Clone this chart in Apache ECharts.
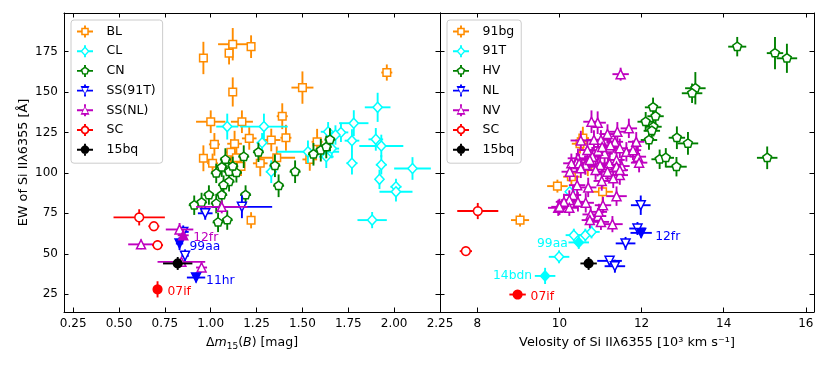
<!DOCTYPE html>
<html>
<head>
<meta charset="utf-8">
<script src="https://cdn.jsdelivr.net/npm/echarts@6/dist/echarts.min.js"></script>
<style>
html, body { margin: 0; padding: 0; background: #fff; }
#main { width: 830px; height: 369px; }
</style>
</head>
<body>
<div id="main"></div>
<script>
// every point: [x, EW, xerr, yerr]
// left panel: x = dm15(B)
var BL = [[0.96,171,0.02,10],[1.12,179.5,0.08,10],[1.10,174,0.02,7],[1.22,178,0.02,7],[1.12,150,0.02,9],
  [1.00,131.6,0.08,7],[1.17,131.6,0.06,7],[1.50,152.7,0.06,10],[1.96,162,0.03,5],[1.39,135,0.03,8],
  [1.02,117.6,0.03,7],[1.21,121.3,0.04,7],[1.33,120.3,0.05,7],[1.41,121.7,0.03,8],[0.96,109,0.02,8],
  [1.13,118,0.04,8],[1.11,112.7,0.03,8],[1.01,105.9,0.03,6],[1.27,105.9,0.04,8],[1.36,109.3,0.1,7],
  [1.58,119.2,0.03,8],[1.54,108.3,0.04,7],[1.165,104,0.02,6],[1.22,70.7,0.02,5],[1.14,109.3,0.03,7]];
var CL = [[1.09,128.6,0.06,8],[1.29,128.6,0.13,8],[1.28,118.6,0.03,6],[1.91,140.5,0.07,9],[1.78,130.7,0.08,8],
  [1.71,125,0.04,6],[1.64,125.4,0.04,6],[1.68,123.4,0.04,6],[1.77,119.9,0.04,7],[1.90,120.7,0.04,7],
  [1.93,116.6,0.12,7],[1.77,106,0.03,7],[1.93,105,0.03,6],[2.10,102.7,0.1,7],[1.63,110,0.04,7],
  [1.66,115,0.04,6],[1.53,113,0.17,7],[1.33,100.7,0.03,7],[1.92,96,0.02,6],[2.01,91.4,0.03,5],
  [2.01,88.3,0.09,6],[1.88,70.8,0.08,5]];
var CN = [[1.18,110,0.03,7],[1.26,112.7,0.03,6],[1.35,104.4,0.03,7],[1.46,100.7,0.03,7],[1.37,92,0.03,7],
  [1.08,108.2,0.03,7],[1.06,103.5,0.03,6],[1.03,99.7,0.03,6],[1.10,100.7,0.03,6],[1.14,100,0.03,6],
  [1.10,94.5,0.03,6],[1.07,92.4,0.03,6],[1.19,86.3,0.03,6],[0.99,86.3,0.03,6],[0.91,80,0.03,6],
  [0.95,81.7,0.03,6],[1.03,81,0.03,6],[1.06,86.3,0.03,6],[1.09,70.8,0.03,6],[1.04,69.4,0.03,6],
  [1.56,111.5,0.03,7],[1.60,114,0.03,7],[1.63,116,0.03,7],[1.65,120.5,0.03,7],[1.12,104,0.03,6]];
var SS91T = [[0.97,75,0.04,4],[1.17,79,0.165,7],[0.85,63.5,0.03,4],[0.86,48.7,0.02,4]];
var SSNL = [[0.83,65,0.075,4],[0.62,55.8,0.07,3],[1.06,79,0.14,4],[0.84,45,0.13,2],[0.95,41.5,0.03,3]];
var SC_L = [[0.61,72.5,0.14,5],[0.69,67,0.03,3],[0.71,55.3,0.03,3]];
var BQ_L = [[0.82,44,0.08,4]];
var NOTE_SS91T = [[0.83,56.3,0.02,4,'99aa'],[0.92,35.3,0.05,3,'11hr']];
var NOTE_SSNL = [[0.85,61.4,0.03,3,'12fr']];
var NOTE_SC_L = [[0.71,28,0.02,5,'07if']];

// right panel: x = Si II velocity (10^3 km/s)
var G91BG = [[9.04,70.8,0.22,4],[9.95,91.8,0.25,4],[11.05,88.3,0.25,8],[10.29,97.6,0.2,5],[10.57,121.5,0.15,7],
  [10.69,104,0.2,6],[10.5,118,0.2,6]];
var G91T = [[10.35,61.5,0.2,4],[10.63,61.5,0.2,4],[10.78,63.5,0.2,4],[9.99,48.1,0.25,4],[10.25,88.3,0.1,3]];
var HV = [[14.33,178,0.22,6],[15.25,174,0.2,10],[15.54,170.8,0.25,9],[13.31,152.3,0.25,10],[13.23,149.2,0.25,6],
  [12.28,140.5,0.2,6],[12.34,135,0.2,6],[12.10,131.6,0.2,6],[12.29,128.5,0.2,6],[12.18,120.3,0.2,6],
  [12.86,121.7,0.2,7],[13.13,118.2,0.25,7],[12.44,108.4,0.2,6],[12.59,109.3,0.2,6],[12.85,103.8,0.25,6],
  [15.06,109.3,0.25,7],[12.25,126,0.2,5]];
var NL = [[11.98,80,0.24,6],[11.9,65.6,0.2,4],[11.61,56.4,0.24,4],[11.22,45.6,0.3,3],[11.35,42.3,0.25,4]];
var NV = [[11.49,161,0.2,4],[10.93,131,0.2,7],[10.78,131.6,0.2,7],[10.52,120,0.25,6],[11.17,124,0.2,6],
  [11.41,125.4,0.2,6],[11.69,127.5,0.2,6],[11.87,119.2,0.2,6],[11.91,110,0.2,6],[11.01,120.4,0.2,6],
  [11.35,119.2,0.2,6],[11.22,115.7,0.2,6],[11.47,115.2,0.2,6],[11.63,113,0.2,6],[11.10,112,0.2,6],
  [10.94,113.7,0.2,6],[10.68,114.1,0.2,6],[10.80,110,0.2,6],[10.45,109,0.25,6],[10.42,106.3,0.2,6],
  [10.63,104.8,0.2,6],[11.18,104.8,0.2,6],[10.93,103.8,0.2,6],[11.51,104.2,0.2,6],[11.79,114,0.2,6],
  [10.84,120.4,0.2,6],[11.04,116,0.2,6],[11.24,117,0.2,6],[10.29,105.9,0.2,6],[10.48,105.9,0.2,6],
  [10.74,108,0.2,6],[10.99,104.8,0.2,6],[11.22,105.9,0.2,6],[11.39,108,0.2,6],[10.25,100.7,0.2,6],
  [10.52,102.8,0.2,6],[10.88,101.7,0.2,6],[11.17,100.7,0.2,6],[11.39,103.8,0.2,6],[11.47,98.6,0.2,6],
  [11.31,96.6,0.2,6],[11.94,106.3,0.2,6],[10.43,92.4,0.2,6],[10.70,91,0.2,6],[10.33,86.3,0.2,6],
  [10.24,83.2,0.2,6],[10.45,82.1,0.2,6],[10.64,81.5,0.2,6],[9.97,78.4,0.25,5],[10.24,78.4,0.2,5],
  [11.39,85.6,0.25,6],[10.76,74.3,0.2,5],[10.94,73.3,0.2,5],[11.01,69.7,0.2,5],[10.74,70.8,0.2,5],
  [11.29,68.3,0.25,5],[10.96,75.9,0.2,5],[10.11,82.1,0.2,5],[10.0,79,0.2,5],[11.06,80,0.2,5],
  [11.47,101.7,0.2,6],[11.03,95,0.2,6]];
var SC_R = [[8.01,76.4,0.5,5],[7.72,51.6,0.15,2]];
var BQ_R = [[10.71,44,0.2,4]];
var NOTE_91T = [[10.47,57,0.25,4,'99aa'],[9.65,36.3,0.25,5,'14bdn']];
var NOTE_NL = [[11.99,62.9,0.26,3,'12fr']];
var NOTE_SC_R = [[8.98,24.8,0.2,2,'07if']];

var EW_TICKS = [25, 50, 75, 100, 125, 150, 175];
var DM_TICKS = [0.25, 0.5, 0.75, 1.0, 1.25, 1.5, 1.75, 2.0, 2.25];
var VEL_TICKS = [8, 10, 12, 14, 16];

var FONT = 'DejaVu Sans';
var ORANGE = '#ff8c00', CYAN = '#00ffff', GREEN = '#008000', BLUE = '#0000ff',
    MAGENTA = '#bf00bf', RED = '#ff0000', BLACK = '#000000';

// label offsets from the marker centre (px)
var NOTE_OFFSET = {
  L99aa: [10, 3, 'left'], L11hr: [10, 3, 'left'], L12fr: [10, 2, 'left'], L07if: [10, 2, 'left'],
  R99aa: [-11, 1.5, 'right'], R14bdn: [-13, 0, 'right'], R12fr: [14, 4, 'left'], R07if: [13, 2, 'left']
};

function ngon(n, r, rot) {
  var a = [];
  for (var i = 0; i < n; i++) {
    var t = rot + i * 2 * Math.PI / n;
    a.push([r * Math.cos(t), r * Math.sin(t)]);
  }
  return a;
}
var SHAPES = {
  square: [[-3.8,-3.8],[3.8,-3.8],[3.8,3.8],[-3.8,3.8]],
  diamond: [[0,-5],[4.6,0],[0,5],[-4.6,0]],
  pentagon: ngon(5, 4.6, -Math.PI / 2),
  up: [[0,-4.5],[4.5,4.5],[-4.5,4.5]],
  down: [[0,4.5],[-4.5,-4.5],[4.5,-4.5]],
  circle: ngon(24, 4.3, 0)
};

var seriesList = [];
var zc = 10;

function addGroup(name, data, color, shape, ax, filled, side) {
  seriesList.push({
    type: 'custom', name: name, xAxisIndex: ax, yAxisIndex: ax, z: zc++,
    data: data.map(function (d) { return d.slice(0, 4); }),
    encode: { x: 0, y: 1 }, itemStyle: { color: color }, animation: false, silent: true,
    renderItem: function (params, api) {
      var x = api.value(0), y = api.value(1), ex = api.value(2), ey = api.value(3);
      var a = api.coord([x - ex, y]), b = api.coord([x + ex, y]);
      var c = api.coord([x, y - ey]), d = api.coord([x, y + ey]);
      var st = { stroke: color, lineWidth: 1.9 };
      return { type: 'group', children: [
        { type: 'line', shape: { x1: a[0], y1: a[1], x2: b[0], y2: b[1] }, style: st },
        { type: 'line', shape: { x1: c[0], y1: c[1], x2: d[0], y2: d[1] }, style: st }
      ] };
    }
  });
  seriesList.push({
    type: 'custom', name: name, xAxisIndex: ax, yAxisIndex: ax, z: zc++,
    data: data.map(function (d) { return d.slice(0, 4); }),
    encode: { x: 0, y: 1 }, itemStyle: { color: color }, animation: false, silent: true,
    renderItem: function (params, api) {
      var p = api.coord([api.value(0), api.value(1)]);
      var poly = SHAPES[shape].map(function (q) { return [p[0] + q[0], p[1] + q[1]]; });
      var kids = [{ type: 'polygon', shape: { points: poly },
        style: { fill: filled ? color : '#ffffff', stroke: color, lineWidth: 1.5 } }];
      var note = data[params.dataIndex][4];
      if (note) {
        var off = NOTE_OFFSET[side + note];
        kids.push({ type: 'text', x: p[0] + off[0], y: p[1] + off[1],
          style: { text: note, fill: color, font: '12.3px ' + FONT, textAlign: off[2], textVerticalAlign: 'middle' } });
      }
      return { type: 'group', children: kids };
    }
  });
}

// left panel
addGroup('BL', BL, ORANGE, 'square', 0, false, 'L');
addGroup('CL', CL, CYAN, 'diamond', 0, false, 'L');
addGroup('CN', CN, GREEN, 'pentagon', 0, false, 'L');
addGroup('SS(91T)', SS91T, BLUE, 'down', 0, false, 'L');
addGroup('SS(NL)', SSNL, MAGENTA, 'up', 0, false, 'L');
addGroup('SC', SC_L, RED, 'circle', 0, false, 'L');
addGroup('15bq', BQ_L, BLACK, 'circle', 0, true, 'L');
addGroup('note-ss91t', NOTE_SS91T, BLUE, 'down', 0, true, 'L');
addGroup('note-ssnl', NOTE_SSNL, MAGENTA, 'up', 0, true, 'L');
addGroup('note-sc', NOTE_SC_L, RED, 'circle', 0, true, 'L');
// right panel
addGroup('91bg', G91BG, ORANGE, 'square', 1, false, 'R');
addGroup('91T', G91T, CYAN, 'diamond', 1, false, 'R');
addGroup('HV', HV, GREEN, 'pentagon', 1, false, 'R');
addGroup('NL', NL, BLUE, 'down', 1, false, 'R');
addGroup('NV', NV, MAGENTA, 'up', 1, false, 'R');
addGroup('SC', SC_R, RED, 'circle', 1, false, 'R');
addGroup('15bq', BQ_R, BLACK, 'circle', 1, true, 'R');
addGroup('note-91t', NOTE_91T, CYAN, 'diamond', 1, true, 'R');
addGroup('note-nl', NOTE_NL, BLUE, 'down', 1, true, 'R');
addGroup('note-scr', NOTE_SC_R, RED, 'circle', 1, true, 'R');

// legend icon: error cross + marker drawn as one path
function rayDist(poly, dx, dy) {
  var best = Infinity;
  for (var i = 0; i < poly.length; i++) {
    var p = poly[i], q = poly[(i + 1) % poly.length];
    var ex = q[0] - p[0], ey = q[1] - p[1];
    var det = ex * dy - dx * ey;
    if (Math.abs(det) < 1e-9) continue;
    var t = (ex * p[1] - p[0] * ey) / det;
    var u = (dx * p[1] - dy * p[0]) / det;
    if (t > 0 && u >= -1e-6 && u <= 1 + 1e-6 && t < best) best = t;
  }
  return best;
}
function polyStr(pts) {
  return 'M' + pts.map(function (p) { return p[0].toFixed(2) + ' ' + p[1].toFixed(2); }).join(' L') + ' Z ';
}
function legendIcon(shape, filled) {
  var k = 1.25, cx = 10, cy = 7.5, h = 1.2;
  var outer = SHAPES[shape].map(function (q) { return [q[0] * k, q[1] * k]; });
  var ring = 0.6;
  var s = '';
  var dirs = [[1, 0], [-1, 0], [0, 1], [0, -1]];
  dirs.forEach(function (dv) {
    var r = rayDist(outer, dv[0], dv[1]);
    var st = filled ? r * 0.5 : r * (1 + ring) / 2;
    var ext = dv[0] !== 0 ? 10 : 7.5;
    var x1, x2, y1, y2;
    if (dv[0] !== 0) {
      x1 = dv[0] > 0 ? cx + st : cx - ext; x2 = dv[0] > 0 ? cx + ext : cx - st;
      y1 = cy - h; y2 = cy + h;
    } else {
      y1 = dv[1] > 0 ? cy + st : cy - ext; y2 = dv[1] > 0 ? cy + ext : cy - st;
      x1 = cx - h; x2 = cx + h;
    }
    s += polyStr([[x1, y1], [x2, y1], [x2, y2], [x1, y2]]);
  });
  s += polyStr(outer.map(function (q) { return [cx + q[0], cy + q[1]]; }));
  if (!filled) {
    var inner = outer.map(function (q) { return [cx + q[0] * ring, cy + q[1] * ring]; }).reverse();
    s += polyStr(inner);
  }
  return 'path://' + s;
}
function legendItem(name, color, shape, filled) {
  return { name: name, icon: legendIcon(shape, filled), itemStyle: { color: color, borderWidth: 0 } };
}

function legendBox(left, items) {
  return {
    orient: 'vertical', left: left, top: 20, z: 100,
    itemWidth: 25, itemHeight: 12, itemGap: 6.7,
    padding: [5, 7, 7, 6],
    backgroundColor: 'rgba(255,255,255,0.85)', borderColor: '#cccccc', borderWidth: 1, borderRadius: 3,
    selectedMode: false, symbolKeepAspect: true,
    formatter: function (n) { return ' ' + n; },
    textStyle: { fontFamily: FONT, fontSize: 12.5, color: '#000', lineHeight: 12 },
    data: items
  };
}

function valueAxis(gridIndex, pos, min, max, ticks, showLabel, fmt, extra) {
  var ax = {
    type: 'value', gridIndex: gridIndex, position: pos, min: min, max: max,
    axisLine: { show: true, onZero: false, lineStyle: { color: '#000', width: 1 } },
    axisTick: { show: true, inside: true, length: 4.5, customValues: ticks, lineStyle: { color: '#000', width: 1 } },
    axisLabel: { show: showLabel, customValues: ticks, formatter: fmt, color: '#000', fontFamily: FONT, fontSize: 12, margin: 6 },
    splitLine: { show: false }
  };
  for (var key in extra) ax[key] = extra[key];
  return ax;
}

var nameRich = {
  t: { fontFamily: FONT, fontSize: 12.5, color: '#000' },
  i: { fontFamily: FONT, fontSize: 12.5, fontStyle: 'italic', color: '#000' },
  s: { fontFamily: FONT, fontSize: 9, color: '#000', padding: [7, 0, 0, 0] }
};

var option = {
  animation: false,
  backgroundColor: '#ffffff',
  grid: [
    { left: 64, right: 390, top: 13, bottom: 57 },
    { left: 440, right: 16, top: 13, bottom: 57 }
  ],
  xAxis: [
    valueAxis(0, 'bottom', 0.2, 2.25, DM_TICKS, true, function (v) { return v.toFixed(2); }, {
      name: '{t|Δ}{i|m}{s|15}{t|(}{i|B}{t|) [mag]}', nameLocation: 'middle', nameGap: 23,
      nameTextStyle: { rich: nameRich }
    }),
    valueAxis(1, 'bottom', 7.09, 16.2, VEL_TICKS, true, function (v) { return String(v); }, {
      name: 'Velosity of Si IIλ6355 [10³ km s⁻¹]', nameLocation: 'middle', nameGap: 24,
      nameTextStyle: { fontFamily: FONT, fontSize: 12.8, color: '#000' }
    }),
    valueAxis(0, 'top', 0.2, 2.25, DM_TICKS, false, null, {}),
    valueAxis(1, 'top', 7.09, 16.2, VEL_TICKS, false, null, {})
  ],
  yAxis: [
    valueAxis(0, 'left', 14, 198.8, EW_TICKS, true, function (v) { return String(v); }, {
      name: 'EW of Si IIλ6355 [Å]', nameLocation: 'middle', nameGap: 34, nameRotate: 90,
      nameTextStyle: { fontFamily: FONT, fontSize: 12.8, color: '#000' }
    }),
    valueAxis(1, 'left', 14, 198.8, EW_TICKS, false, null, {}),
    valueAxis(0, 'right', 14, 198.8, EW_TICKS, false, null, {}),
    valueAxis(1, 'right', 14, 198.8, EW_TICKS, false, null, {})
  ],
  legend: [
    legendBox(71, [
      legendItem('BL', ORANGE, 'square', false), legendItem('CL', CYAN, 'diamond', false),
      legendItem('CN', GREEN, 'pentagon', false), legendItem('SS(91T)', BLUE, 'down', false),
      legendItem('SS(NL)', MAGENTA, 'up', false), legendItem('SC', RED, 'circle', false),
      legendItem('15bq', BLACK, 'circle', true)
    ]),
    legendBox(447, [
      legendItem('91bg', ORANGE, 'square', false), legendItem('91T', CYAN, 'diamond', false),
      legendItem('HV', GREEN, 'pentagon', false), legendItem('NL', BLUE, 'down', false),
      legendItem('NV', MAGENTA, 'up', false), legendItem('SC', RED, 'circle', false),
      legendItem('15bq', BLACK, 'circle', true)
    ])
  ],
  series: seriesList
};

var chart = echarts.init(document.getElementById('main'));
chart.setOption(option);
</script>
</body>
</html>
